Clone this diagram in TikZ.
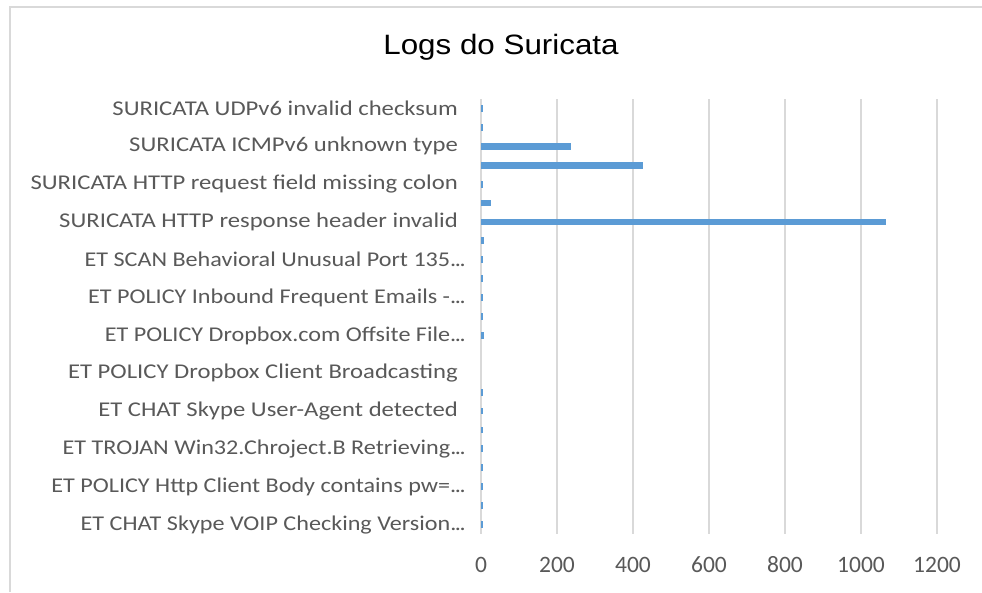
\documentclass[tikz,border=0pt]{standalone}
\usepackage{fontspec}
\setmainfont{Carlito}
\newfontfamily\titlefont{Liberation Sans}
\definecolor{barblue}{HTML}{5B9BD5}
\definecolor{gridgrey}{HTML}{D9D9D9}
\definecolor{framegrey}{HTML}{D9D9D9}
\definecolor{labelgrey}{HTML}{595959}
\newcommand{\tdots}{.\kern-1.2pt.\kern-1.2pt.}
\begin{document}
\begin{tikzpicture}[x=1pt,y=-1pt,
  catlabel/.style={anchor=east,inner sep=0pt,text=labelgrey,font=\fontsize{21}{21}\selectfont},
  ticklabel/.style={anchor=center,inner sep=0pt,text=labelgrey,font=\fontsize{23.5}{23.5}\selectfont},
  gridline/.style={draw=gridgrey,line width=1.3pt},
  bar/.style={fill=barblue}]
\useasboundingbox (0,0) rectangle (982,592);
\fill[white] (0,0) rectangle (982,592);
% frame
\draw[framegrey,line width=2.2pt] (10,592) -- (10,7) -- (982,7);
% title
\node[inner sep=0pt,font=\titlefont\fontsize{28}{28}\selectfont] (title) at (501,47) {\scalebox{1.12}[1]{Logs do Suricata}};
% gridlines and tick labels
\foreach \v [count=\k] in {0,200,400,600,800,1000,1200}{
  \draw[gridline] (481+0.38*\v,99) -- (481+0.38*\v,534);
  \node[ticklabel] (tick\k) at (481+0.38*\v,565) {\v};
}
% bars
\foreach \val [count=\i] in {5,5,238,427,5,27,1066,8,5,5,5,5,8,0,0,5,5,5,5,5,5,5,5}{
  \pgfmathsetmacro{\yc}{99+18.913*(\i-0.5)}
  \ifdim\val pt>0pt
    \fill[bar] (481,\yc-3.4) rectangle (481+0.38*\val,\yc+3.4);
  \fi
}
% category labels
\foreach \lab/\ax/\sc [count=\j] in {
  {SURICATA UDPv6 invalid checksum}/458/1.175,
  {SURICATA ICMPv6 unknown type}/458/1.175,
  {SURICATA HTTP request field missing colon}/458/1.175,
  {SURICATA HTTP response header invalid}/458/1.175,
  {ET SCAN Behavioral Unusual Port 135\tdots}/466/1.15,
  {ET POLICY Inbound Frequent Emails -\tdots}/466/1.15,
  {ET POLICY Dropbox.com Offsite File\tdots}/466/1.15,
  {ET POLICY Dropbox Client Broadcasting}/458/1.175,
  {ET CHAT Skype User-Agent detected}/458/1.175,
  {ET TROJAN Win32.Chroject.B Retrieving\tdots}/466/1.15,
  {ET POLICY Http Client Body contains pw=\tdots}/466/1.15,
  {ET CHAT Skype VOIP Checking Version\tdots}/466/1.15}{
  \pgfmathsetmacro{\yl}{99+18.913*(2*\j-1.5)}
  \node[catlabel] (cat\j) at (\ax,\yl) {\scalebox{\sc}[1]{\lab}};
}
\end{tikzpicture}
\end{document}
